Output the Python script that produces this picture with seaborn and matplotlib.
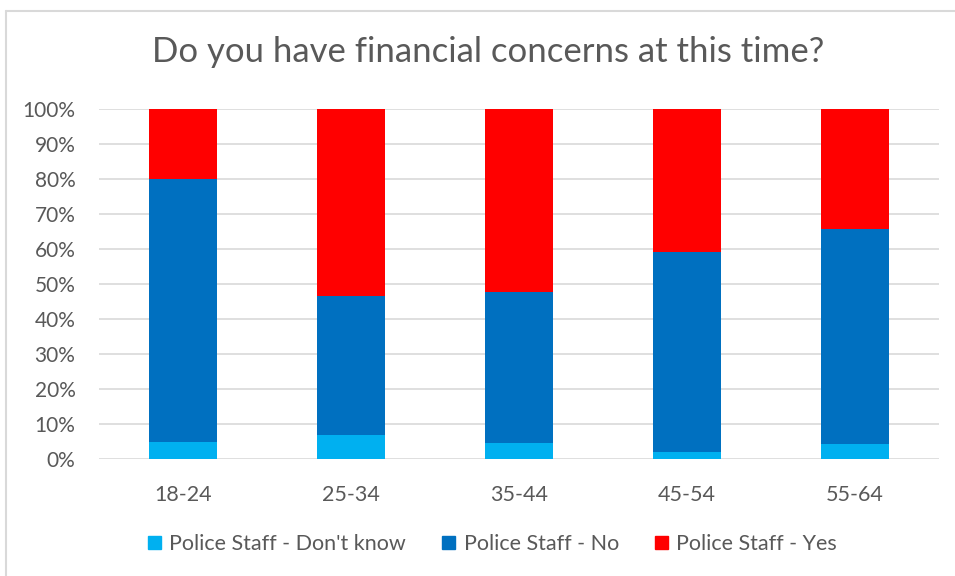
import matplotlib
matplotlib.use("Agg")
import matplotlib.pyplot as plt
import matplotlib.patches as mpatches
from matplotlib.lines import Line2D
import numpy as np
import pandas as pd
import seaborn as sns

# Survey answers by age band (percent of respondents)
age_groups = ["18-24", "25-34", "35-44", "45-54", "55-64"]
dont_know = [4.9, 6.9, 4.6, 2.0, 4.3]
answer_no = [75.0, 39.6, 43.1, 57.1, 61.3]
answer_yes = [20.1, 53.5, 52.3, 40.9, 34.4]

series_names = ["Police Staff - Don't know", "Police Staff - No", "Police Staff - Yes"]
series_colors = ["#00B0F0", "#0070C0", "#FF0000"]

sns.set_theme(style="white")
plt.rcParams["font.family"] = ["Lato", "DejaVu Sans"]

text_grey = "#595959"

df = pd.DataFrame({
    "age": age_groups,
    "dk": dont_know,
    "no": answer_no,
    "yes": answer_yes,
})
# Cumulative tops for stacked bars
df["top_dk"] = df["dk"]
df["top_no"] = df["dk"] + df["no"]
df["top_yes"] = df["dk"] + df["no"] + df["yes"]

fig = plt.figure(figsize=(9.55, 5.76), dpi=100)
W, H = 955, 576
ax = fig.add_axes([99 / W, (H - 459) / H, 840 / W, 350 / H])

for col, color in zip(["top_yes", "top_no", "top_dk"], series_colors[::-1]):
    sns.barplot(data=df, x="age", y=col, color=color, width=0.4,
                saturation=1, ax=ax, linewidth=0, zorder=3)

ax.set_ylim(0, 100)
ax.set_xlim(-0.5, 4.5)
ax.set_yticks(np.arange(0, 101, 10))
ax.set_yticklabels([f"{v}%" for v in range(0, 101, 10)])
ax.set_xlabel("")
ax.set_ylabel("")
ax.yaxis.grid(True, color="#D9D9D9", linewidth=1.2, zorder=0)
ax.xaxis.grid(False)
for s in ax.spines.values():
    s.set_visible(False)
ax.tick_params(axis="y", length=0, pad=17, labelsize=15, labelcolor=text_grey)
ax.tick_params(axis="x", length=0, pad=19, labelsize=15.5, labelcolor=text_grey)

fig.text(488 / W, 1 - 52 / H, "Do you have financial concerns at this time?",
         ha="center", va="center", fontsize=25, color=text_grey)

handles = [mpatches.Patch(color=c, label=n) for c, n in zip(series_colors, series_names)]
fig.legend(handles=handles, loc="center", bbox_to_anchor=(492.5 / W, 1 - 544 / H),
           ncol=3, frameon=False, fontsize=15.5, labelcolor=text_grey,
           handlelength=0.6, handleheight=0.6, handletextpad=0.4, columnspacing=1.67)

# Chart frame: top and left edges only
frame_color = "#D9D9D9"
fig.add_artist(Line2D([5.5 / W, 1.0], [1 - 10.5 / H, 1 - 10.5 / H], transform=fig.transFigure,
                      color=frame_color, linewidth=1.5))
fig.add_artist(Line2D([5.5 / W, 5.5 / W], [0.0, 1 - 10.5 / H], transform=fig.transFigure,
                      color=frame_color, linewidth=1.5))

fig.savefig("out.png", dpi=100)
